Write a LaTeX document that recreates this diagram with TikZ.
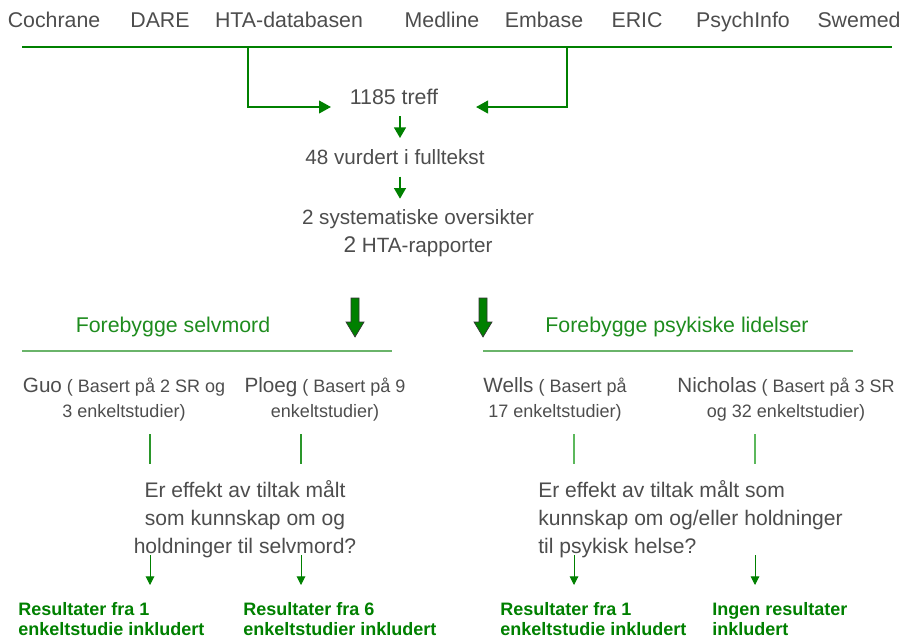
\documentclass[tikz,border=0pt]{standalone}
\usepackage{fontspec}
\setmainfont{Liberation Sans}
\usetikzlibrary{arrows.meta,calc}
\definecolor{txt}{HTML}{4D4D4D}
\definecolor{grn}{HTML}{008000}
\definecolor{hgrn}{HTML}{1E8C1E}
\definecolor{lgrn}{HTML}{6AB46A}
\definecolor{vgrn}{HTML}{2A962A}
\definecolor{vlgrn}{HTML}{5CB85C}
\begin{document}
\begin{tikzpicture}[x=0.75pt,y=-0.75pt,
  lab/.style={font=\fontsize{16}{19}\selectfont, text=txt, inner sep=0pt, anchor=base},
  midtxt/.style={font=\fontsize{15.5}{20.5}\selectfont, text=txt, inner sep=0pt, anchor=base, align=center},
  headtxt/.style={font=\fontsize{16}{19}\selectfont, text=hgrn, inner sep=0pt, anchor=base},
  study/.style={font=\fontsize{13.5}{18.5}\selectfont, text=txt, inner sep=0pt, anchor=base, align=center},
  quest/.style={font=\fontsize{15.8}{21}\selectfont, text=txt, inner sep=0pt, anchor=base},
  res/.style={font=\bfseries\fontsize{13.5}{15}\selectfont, text=grn, inner sep=0pt, anchor=base west, align=left},
  topline/.style={draw=grn, line width=1.5pt},
  toparr/.style={draw=grn, line width=1.5pt, -{Triangle[length=9pt,width=9.5pt]}},
  midarr/.style={draw=grn, line width=1.1pt, -{Triangle[length=8pt,width=9pt]}},
  botarr/.style={draw=grn, line width=0.75pt, -{Triangle[length=6.5pt,width=6.5pt]}},
  hline/.style={draw=lgrn, line width=1pt},
  blockarr/.style={fill=grn, draw=black!80, line width=0.5pt},
]
\useasboundingbox (0,0) rectangle (902,640);

% database labels
\node[lab] (c1) at (54,27) {Cochrane};
\node[lab] (c2) at (160,27) {DARE};
\node[lab] (c3) at (289,27) {HTA-databasen};
\node[lab] (c4) at (442,27) {Medline};
\node[lab] (c5) at (544,27) {Embase};
\node[lab] (c6) at (637,27) {ERIC};
\node[lab] (c7) at (743,27) {PsychInfo};
\node[lab] (c8) at (859,27) {Swemed};

% top line and joins
\coordinate (tl) at (22,47);
\coordinate (tr) at (892,47);
\coordinate (j1) at (248,47);
\coordinate (j2) at (567,47);
\coordinate (a1) at (331,107);
\coordinate (a2) at (476,107);
\draw[topline] (tl) -- (tr);

% central flow
\node[lab] (treff) at (394,104) {1185 treff};
\node[midtxt] (vurdert) at (395,164) {48 vurdert i fulltekst};
\node[midtxt] (sys) at (418,252) {2 systematiske oversikter\\{\fontsize{17}{20.5}\selectfont 2} HTA-rapporter};

\draw[toparr] (j1) |- (a1);
\draw[toparr] (j2) |- (a2);
\draw[midarr] ([xshift=4.5pt,yshift=-9pt]treff.base) -- ([xshift=4.5pt,yshift=-25.5pt]treff.base);
\draw[midarr] ([xshift=3.75pt,yshift=-9.5pt]vurdert.base) -- ([xshift=3.75pt,yshift=-26pt]vurdert.base);

% block arrows
\foreach \x in {355,483}{
  \path[blockarr] (\x-4,298) -- (\x+4,298) -- (\x+4,322) -- (\x+9,322) -- (\x,337) -- (\x-9,322) -- (\x-4,322) -- cycle;
}

% headings
\node[headtxt] (h1) at (173,332) {Forebygge selvmord};
\node[headtxt] (h2) at (677,332) {Forebygge psykiske lidelser};
\coordinate (hl1) at (22,351);
\coordinate (hl2) at (392,351);
\coordinate (hr1) at (483,351);
\coordinate (hr2) at (853,351);
\draw[hline] (hl1) -- (hl2);
\draw[hline] (hr1) -- (hr2);

% studies
\node[study] (guo) at (124,417) {{\fontsize{15.5}{18.5}\selectfont Guo} ( Basert på 2 SR og\\3 enkeltstudier)};
\node[study] (ploeg) at (325,417) {{\fontsize{15.5}{18.5}\selectfont Ploeg} ( Basert på 9\\enkeltstudier)};
\node[study] (wells) at (555,417) {{\fontsize{15.5}{18.5}\selectfont Wells} ( Basert på\\17 enkeltstudier)};
\node[study] (nich) at (786,417) {{\fontsize{15.5}{18.5}\selectfont Nicholas} ( Basert på 3 SR\\og 32 enkeltstudier)};

% vertical ticks
\coordinate (v1a) at (150,434); \coordinate (v1b) at (150,464);
\coordinate (v2a) at (301,434); \coordinate (v2b) at (301,464);
\coordinate (v3a) at (574,434); \coordinate (v3b) at (574,464);
\coordinate (v4a) at (755,434); \coordinate (v4b) at (755,464);
\draw[draw=vgrn, line width=0.8pt] (v1a) -- (v1b);
\draw[draw=vgrn, line width=0.8pt] (v2a) -- (v2b);
\draw[draw=vlgrn, line width=0.8pt] (v3a) -- (v3b);
\draw[draw=vlgrn, line width=0.8pt] (v4a) -- (v4b);

% questions
\node[quest, align=center] (q1) at (245,553) {Er effekt av tiltak målt\\som kunnskap om og\\holdninger til selvmord?};
\node[quest, align=left, anchor=base west] (q2) at (538,553) {Er effekt av tiltak målt som\\kunnskap om og/eller holdninger\\til psykisk helse?};

% bottom arrows
\coordinate (b1a) at (150,555); \coordinate (b1b) at (150,585);
\coordinate (b2a) at (301,555); \coordinate (b2b) at (301,585);
\coordinate (b3a) at (574,555); \coordinate (b3b) at (574,585);
\coordinate (b4a) at (755,555); \coordinate (b4b) at (755,585);
\draw[botarr] (b1a) -- (b1b);
\draw[botarr] (b2a) -- (b2b);
\draw[botarr] (b3a) -- (b3b);
\draw[botarr] (b4a) -- (b4b);

% results
\node[res] (r1) at (18,635) {Resultater fra 1\\enkeltstudie inkludert};
\node[res] (r2) at (243,635) {Resultater fra 6\\enkeltstudier inkludert};
\node[res] (r3) at (500,635) {Resultater fra 1\\enkeltstudie inkludert};
\node[res] (r4) at (712,635) {Ingen resultater\\inkludert};
\end{tikzpicture}
\end{document}
